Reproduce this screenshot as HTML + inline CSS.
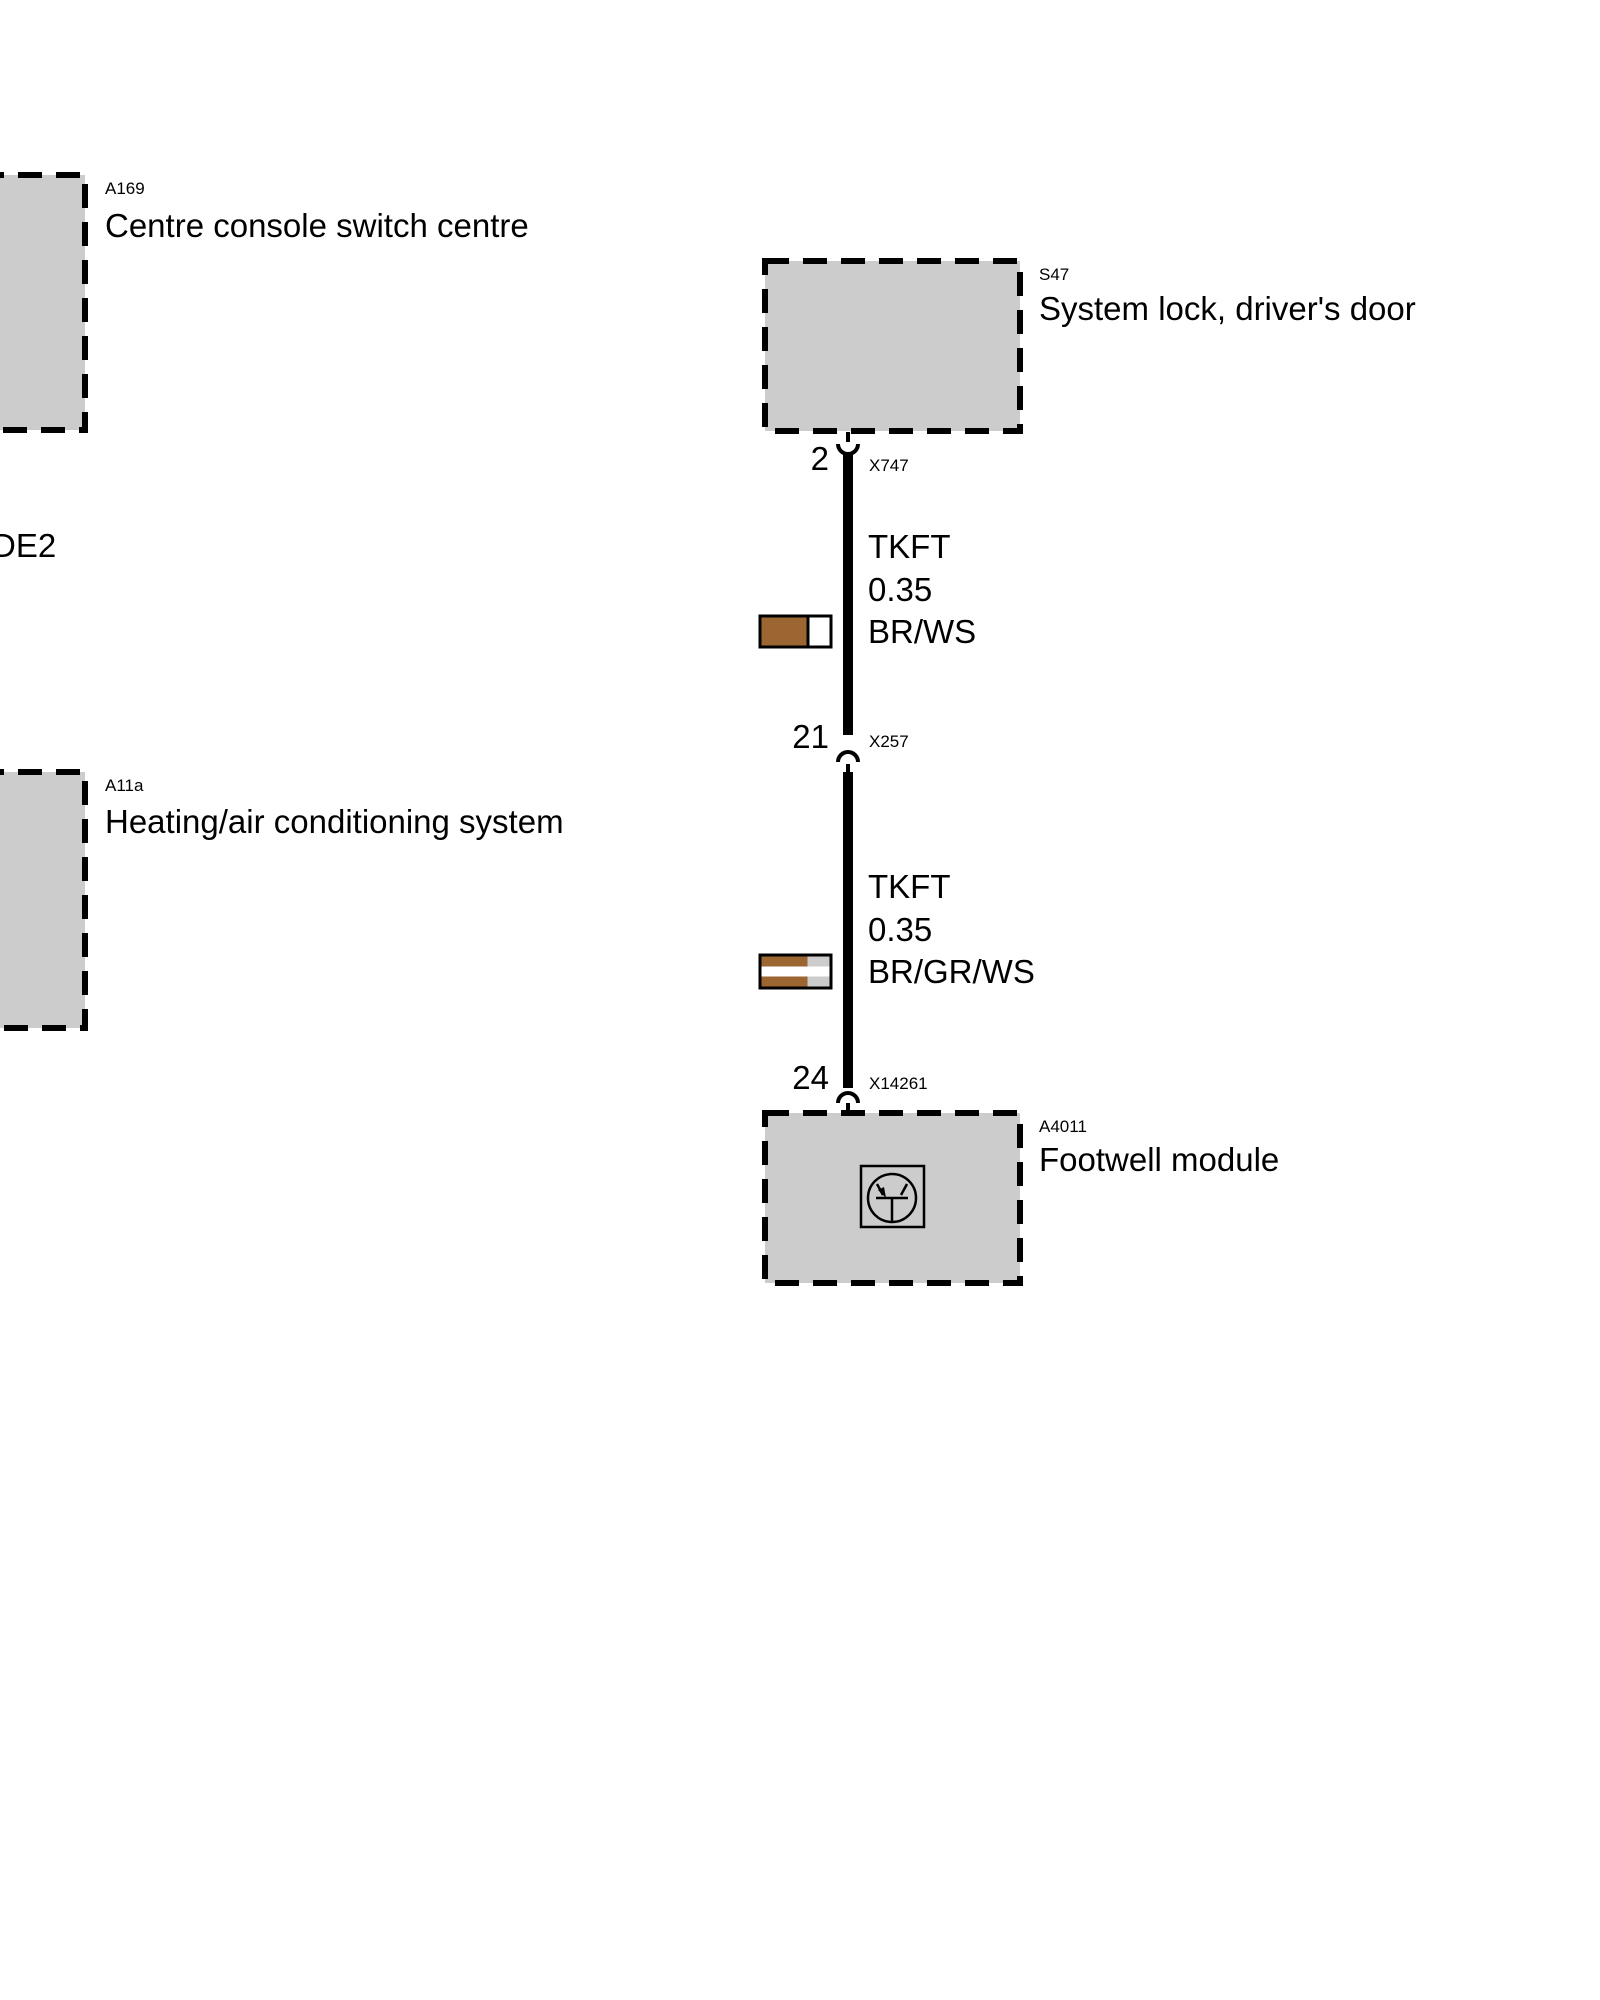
<!DOCTYPE html>
<html><head><meta charset="utf-8"><style>html,body{margin:0;padding:0;background:#fff}svg{display:block}</style></head>
<body>
<svg width="1600" height="2000" xmlns="http://www.w3.org/2000/svg" font-family="Liberation Sans, Arial, sans-serif">
<g fill="#cccccc" stroke="#000" stroke-width="6" stroke-dasharray="24,14">
<rect x="-20" y="175" width="105" height="255"/>
<rect x="-20" y="772" width="105" height="256"/>
<rect x="765" y="261" width="255" height="170"/>
<rect x="765" y="1113" width="255" height="170"/>
</g>
<rect x="843" y="452" width="10" height="283" fill="#000"/>
<rect x="843" y="772" width="10" height="316" fill="#000"/>
<g fill="none" stroke="#000" stroke-width="4">
<path d="M838,444 A10,10 0 0 0 858,444"/>
<line x1="848" y1="432" x2="848" y2="442"/>
<path d="M838,762 A10,10 0 0 1 858,762"/>
<line x1="848" y1="764" x2="848" y2="774"/>
<path d="M838,1103 A10,10 0 0 1 858,1103"/>
<line x1="848" y1="1103" x2="848" y2="1114"/>
</g>
<rect x="760" y="616" width="71" height="31" fill="#fff" stroke="#000" stroke-width="3"/>
<rect x="761.5" y="617.5" width="46" height="28" fill="#9c6632"/>
<line x1="808" y1="616" x2="808" y2="647" stroke="#000" stroke-width="3"/>
<rect x="760" y="955" width="71" height="33" fill="#fff" stroke="#000" stroke-width="3"/>
<rect x="761.5" y="956.5" width="46" height="10" fill="#9c6632"/>
<rect x="807.5" y="956.5" width="22" height="10" fill="#cccccc"/>
<rect x="761.5" y="976.5" width="46" height="10" fill="#9c6632"/>
<rect x="807.5" y="976.5" width="22" height="10" fill="#cccccc"/>
<rect x="861" y="1166" width="63" height="61" fill="none" stroke="#000" stroke-width="2.5"/>
<circle cx="892" cy="1198" r="24" fill="none" stroke="#000" stroke-width="2.5"/>
<g stroke="#000" stroke-width="2.5" fill="none">
<line x1="876" y1="1198" x2="908" y2="1198"/>
<line x1="892" y1="1198" x2="892" y2="1222"/>
<line x1="877" y1="1184" x2="883" y2="1195"/>
<line x1="907" y1="1184" x2="901" y2="1195"/>
</g>
<polygon points="886,1198 878,1190 884,1187" fill="#000"/>
<g fill="#000">
<text x="105" y="194" font-size="17">A169</text>
<text x="105" y="237" font-size="33">Centre console switch centre</text>
<text x="-8" y="557" font-size="33">DE2</text>
<text x="105" y="791" font-size="17">A11a</text>
<text x="105" y="833" font-size="33">Heating/air conditioning system</text>
<text x="1039" y="280" font-size="17">S47</text>
<text x="1039" y="320" font-size="33">System lock, driver's door</text>
<text x="1039" y="1132" font-size="17">A4011</text>
<text x="1039" y="1171" font-size="33">Footwell module</text>
<text x="829" y="470" font-size="33" text-anchor="end">2</text>
<text x="829" y="748" font-size="33" text-anchor="end">21</text>
<text x="829" y="1089" font-size="33" text-anchor="end">24</text>
<text x="869" y="471" font-size="17">X747</text>
<text x="869" y="747" font-size="17">X257</text>
<text x="869" y="1089" font-size="17">X14261</text>
<text x="868" y="558" font-size="33">TKFT</text>
<text x="868" y="601" font-size="33">0.35</text>
<text x="868" y="643" font-size="33">BR/WS</text>
<text x="868" y="898" font-size="33">TKFT</text>
<text x="868" y="941" font-size="33">0.35</text>
<text x="868" y="983" font-size="33">BR/GR/WS</text>
</g>
</svg>
</body></html>
